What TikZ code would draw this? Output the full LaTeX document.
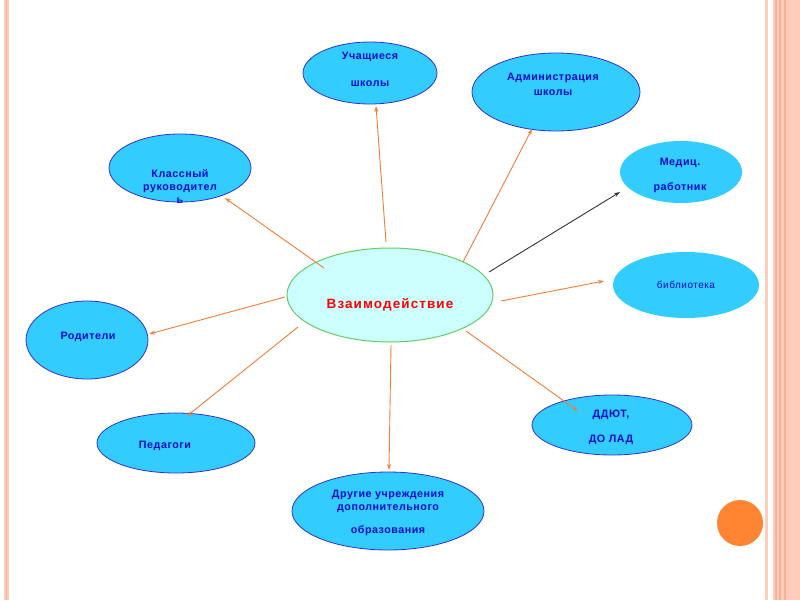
\documentclass[tikz,border=0pt]{standalone}
\usepackage{fontspec}
\setmainfont{Liberation Sans}
\newfontfamily\spfont[LetterSpace=5]{Liberation Sans}
\newfontfamily\spwide[LetterSpace=8]{Liberation Sans}
\usetikzlibrary{shapes.geometric,arrows.meta,calc}
\definecolor{bubfill}{HTML}{33CCFF}
\definecolor{bubline}{HTML}{3333CC}
\definecolor{txtblue}{HTML}{0A0ACC}
\definecolor{arrcol}{HTML}{F07F3A}
\definecolor{cfill}{HTML}{CCFFFF}
\definecolor{cline}{HTML}{66CC66}
\definecolor{band}{HTML}{FFCDB9}
\definecolor{bandd}{HTML}{F6B095}
\definecolor{dotcol}{HTML}{FF8533}
\tikzset{
  bub/.style={ellipse, draw=bubline, line width=0.8pt, fill=bubfill, inner sep=0pt},
  bubplain/.style={ellipse, fill=bubfill, inner sep=0pt},
  lbl/.style={text=txtblue, font=\spfont\bfseries\fontsize{10.7}{13}\selectfont, align=center, inner sep=0pt},
  link/.style={draw=arrcol, line width=0.9pt, -{Stealth[length=6pt,width=4pt]}},
}
\begin{document}
\begin{tikzpicture}[x=1pt,y=-1pt]
\useasboundingbox (0,0) rectangle (800,600);
\fill[white] (0,0) rectangle (800,600);
% frame
\fill[band] (4,0) rectangle (9,600);
\draw[bandd, line width=1pt] (6.5,0) -- (6.5,600);
\fill[band] (765,0) rectangle (768,600);
\fill[band] (773,0) rectangle (800,600);
\draw[bandd, line width=1.6pt] (776,0) -- (776,600);
\draw[bandd, line width=1.6pt] (780,0) -- (780,600);
\draw[bandd, line width=2pt] (784.5,0) -- (784.5,600);
\fill[dotcol] (740,523) circle (23pt);
% nodes
\node[ellipse, draw=cline, line width=1pt, fill=cfill, minimum width=206pt, minimum height=94pt, inner sep=0pt] (c) at (390,295) {};
\node[bub, minimum width=134pt, minimum height=62pt] (u) at (370,73) {};
\node[bub, minimum width=168pt, minimum height=78pt] (a) at (556,92) {};
\node[bubplain, minimum width=122pt, minimum height=62pt] (m) at (681,172) {};
\node[bubplain, minimum width=146pt, minimum height=66pt] (b) at (686,285) {};
\node[bub, minimum width=160pt, minimum height=60pt] (d) at (612,425) {};
\node[bub, minimum width=192pt, minimum height=78pt] (o) at (388,511) {};
\node[bub, minimum width=158pt, minimum height=60pt] (p) at (176,443) {};
\node[bub, minimum width=122pt, minimum height=78pt] (r) at (87,340) {};
\node[bub, minimum width=142pt, minimum height=68pt] (k) at (180,168) {};
% connectors
\draw[link] ($(c)+(-4,-53)$) -- ($(u)+(6,33)$);
\draw[link] ($(c)+(73,-33)$) -- ($(a)+(-24,37)$);
\draw[draw=black!80, line width=0.9pt, -{Stealth[length=6pt,width=4pt]}] ($(c)+(99,-23)$) -- ($(m)+(-61,20)$);
\draw[link] ($(c)+(111,6)$) -- ($(b)+(-82,-4)$);
\draw[link] ($(c)+(76,36)$) -- ($(d)+(-34,-14)$);
\draw[link] ($(c)+(1,50)$) -- ($(o)+(1,-41)$);
\draw[link] ($(c)+(-92,32)$) -- ($(p)+(11,-27)$);
\draw[link] ($(c)+(-105,2)$) -- ($(r)+(62,-6)$);
\draw[link] ($(c)+(-66,-27)$) -- ($(k)+(45,30)$);
% texts
\node[text=red, font=\spwide\bfseries\fontsize{13.5}{16}\selectfont, inner sep=0pt] (ct) at (390,305) {Взаимодействие};
\node[lbl] (ut) at (370,69) {Учащиеся\\[14pt]школы};
\node[lbl] (at) at (553,84) {Администрация\\[2pt]школы};
\node[lbl] (mt) at (680,175) {Медиц.\\[12pt]работник};
\node[text=txtblue, font=\spfont\fontsize{10}{12}\selectfont, inner sep=0pt] (bt) at (686,285) {библиотека};
\node[lbl] (dt) at (611,427) {ДДЮТ,\\[12pt]ДО ЛАД};
\node[lbl] (ot) at (388,513) {Другие учреждения\\дополнительного\\[10pt]образования};
\node[lbl] (pt) at (165,446) {Педагоги};
\node[lbl] (rt) at (88,337) {Родители};
\node[lbl] (kt) at (180,187) {Классный\\руководител\\ь};
\end{tikzpicture}
\end{document}
